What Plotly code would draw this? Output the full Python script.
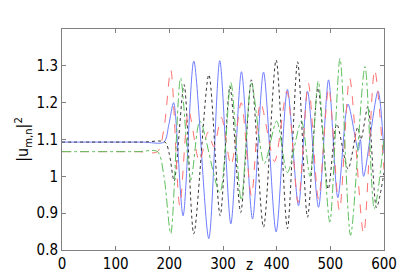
import plotly.graph_objects as go

# --- data (z, |u|^2 key points) ---
blue_z = [0, 150, 190, 199, 208, 225.6, 245.6, 273.5, 294, 314.6, 334.4, 355, 375.5, 399, 420, 440.7, 457.5, 478, 496.7, 514, 532.8, 552, 556, 562, 588.8, 600]
blue_v = [1.093, 1.093, 1.093, 1.14, 1.2, 0.893, 1.313, 0.831, 1.314, 0.871, 1.284, 0.884, 1.283, 0.849, 1.236, 0.92, 1.231, 0.916, 1.262, 0.942, 1.196, 1.071, 1.10, 1.0, 1.231, 1.062]

black_z = [0, 150, 192, 200, 209, 227.5, 245.6, 273.6, 294.7, 313, 333, 353, 375.5, 399, 420, 439, 457.5, 477, 496, 512, 533, 551, 557, 570, 586, 600]
black_v = [1.093, 1.093, 1.093, 1.06, 0.987, 1.249, 0.844, 1.276, 0.893, 1.244, 0.902, 1.262, 0.862, 1.316, 0.858, 1.311, 0.889, 1.24, 0.965, 1.142, 1.02, 1.133, 1.10, 1.19, 0.915, 1.01]

red_z = [0, 140, 178, 190, 202.7, 219.5, 236, 256, 272, 283, 297, 315, 334, 353, 370, 396, 419, 440, 459, 478, 497, 517, 536, 562, 582.5, 600]
red_v = [1.067, 1.067, 1.067, 1.13, 1.289, 0.92, 1.178, 1.04, 1.12, 1.08, 1.16, 1.03, 1.2, 0.947, 1.2, 1.04, 1.231, 0.929, 1.253, 0.938, 1.24, 0.907, 1.267, 0.844, 1.289, 1.018]

green_z = [0, 140, 178, 190, 202.7, 221, 240, 257, 294, 314.6, 334, 353, 377, 400, 420, 446, 462, 477.5, 499, 518, 537.7, 564.5, 582, 600]
green_v = [1.067, 1.067, 1.067, 1.0, 0.844, 1.267, 0.99, 1.15, 0.956, 1.255, 0.935, 1.253, 1.035, 1.15, 1.01, 1.15, 1.0, 1.258, 0.876, 1.32, 0.84, 1.298, 0.912, 1.1]

x_ticks = [0, 100, 200, 300, 400, 500, 600]
y_ticks = [0.8, 0.9, 1.0, 1.1, 1.2, 1.3]
y_labels = ["0.8", "0.9", "1", "1.1", "1.2", "1.3"]

fig = go.Figure()
series = [
    (blue_z, blue_v, "#6f7dff", "solid"),
    (black_z, black_v, "#333333", "dot"),
    (red_z, red_v, "#ff6f6f", "dash"),
    (green_z, green_v, "#5cbf5c", "dashdot"),
]
for zs, vs, col, dash in series:
    fig.add_trace(go.Scatter(x=zs, y=vs, mode="lines",
                             line=dict(color=col, width=1, dash=dash, shape="spline", smoothing=0.8),
                             showlegend=False, hoverinfo="skip"))

font_family = "Liberation Sans Narrow, DejaVu Sans Condensed, Liberation Sans, sans-serif"
axis_common = dict(showgrid=False, zeroline=False, showline=True, linecolor="#808080",
                   linewidth=1, mirror="ticks", ticks="inside", ticklen=4,
                   tickcolor="#808080", tickfont=dict(family=font_family, size=15, color="#000"))

fig.update_layout(
    width=415, height=277,
    margin=dict(l=54, r=39, t=21, b=32),
    paper_bgcolor="white", plot_bgcolor="white",
    xaxis=dict(range=[0, 600], tickvals=x_ticks, **axis_common),
    yaxis=dict(range=[0.8, 1.4], tickvals=y_ticks, ticktext=y_labels,
               title=dict(text="|u<sub>m,n</sub>|<sup>2</sup>", standoff=3,
                          font=dict(family=font_family, size=16, color="#000")),
               **axis_common),
    annotations=[dict(text="z", x=350, xref="x", y=0, yref="paper", yanchor="top",
                      yshift=-4, showarrow=False,
                      font=dict(family=font_family, size=15, color="#000"))],
)

fig.write_html("out.html")
